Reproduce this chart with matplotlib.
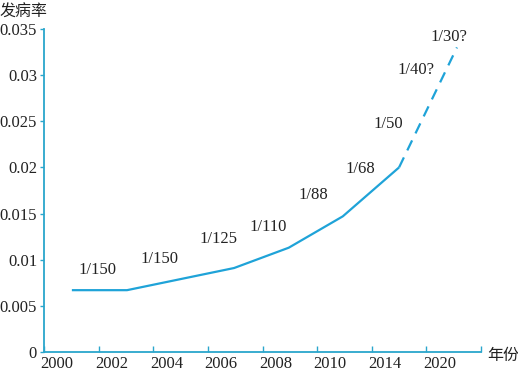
import matplotlib
matplotlib.use("Agg")
import matplotlib.pyplot as plt
from matplotlib.ticker import FixedLocator

# x axis is a category scale: one slot per labelled year
year_labels = ["2000", "2002", "2004", "2006", "2008", "2010", "2014", "2020"]

# measured curve (slot units, incidence)
solid_x = [0.51, 1.52, 3.48, 4.48, 5.47, 6.50]
solid_y = [0.0067, 0.0067, 0.0091, 0.0113, 0.0147, 0.0200]
dash_x = [6.50, 7.56]
dash_y = [0.0200, 0.0330]

# rate annotations
rate_text = ["1/150", "1/150", "1/125", "1/110", "1/88", "1/68", "1/50", "1/40?", "1/30?"]
rate_x = [0.97, 2.12, 3.19, 4.10, 4.93, 5.79, 6.30, 6.81, 7.42]
rate_y = [0.0089, 0.0101, 0.0122, 0.0135, 0.0170, 0.0198, 0.0247, 0.0306, 0.0341]

blue = "#1fa3d8"
axcol = "#2aa6cc"
serif = ["Liberation Serif", "DejaVu Serif"]
cjk = ["Noto Sans CJK SC", "DejaVu Sans"]
fs = 12

fig = plt.figure(figsize=(5.18, 3.71), dpi=100)
ax = fig.add_axes([44/518, 19/371, (481-44)/518, (352-29)/371])

ax.plot(solid_x, solid_y, color=blue, lw=1.6, solid_capstyle="butt")
ax.plot(dash_x, dash_y, color=blue, lw=1.6, dashes=(5, 3.5))

for t, x, y in zip(rate_text, rate_x, rate_y):
    ax.text(x, y, t, ha="center", va="center", fontsize=fs, family=serif, color="#222222")

ax.set_xlim(0, 8)
ax.set_ylim(0, 0.035)

# tick marks at slot edges, labels a bit to the right of each mark
ax.xaxis.set_major_locator(FixedLocator(range(9)))
ax.xaxis.set_major_formatter(plt.NullFormatter())
ax.xaxis.set_minor_locator(FixedLocator([k + 0.24 for k in range(len(year_labels))]))
ax.set_xticklabels(year_labels, minor=True)
ax.tick_params(axis="x", which="major", direction="in", length=4, color=axcol, width=1)
ax.tick_params(axis="x", which="minor", length=0, pad=3, labelsize=fs)

yt = [0, 0.005, 0.01, 0.015, 0.02, 0.025, 0.03, 0.035]
ax.set_yticks(yt)
ax.set_yticklabels(["0", "0.005", "0.01", "0.015", "0.02", "0.025", "0.03", "0.035"])
ax.tick_params(axis="y", direction="out", length=3, color=axcol, width=1, pad=2, labelsize=fs)

for lab in ax.get_xticklabels(minor=True) + ax.get_yticklabels():
    lab.set_family(serif)
    lab.set_color("#222222")

for s in ["top", "right"]:
    ax.spines[s].set_visible(False)
for s in ["left", "bottom"]:
    ax.spines[s].set_color(axcol)
    ax.spines[s].set_linewidth(1.3)

fig.text(0, 1 - 12/371, "发病率", family=cjk, fontsize=11.5, ha="left", va="center", color="#222222")
fig.text(487/518, 1 - 355/371, "年份", family=cjk, fontsize=11.5, ha="left", va="center", color="#222222")

fig.savefig("out.png", dpi=100)
